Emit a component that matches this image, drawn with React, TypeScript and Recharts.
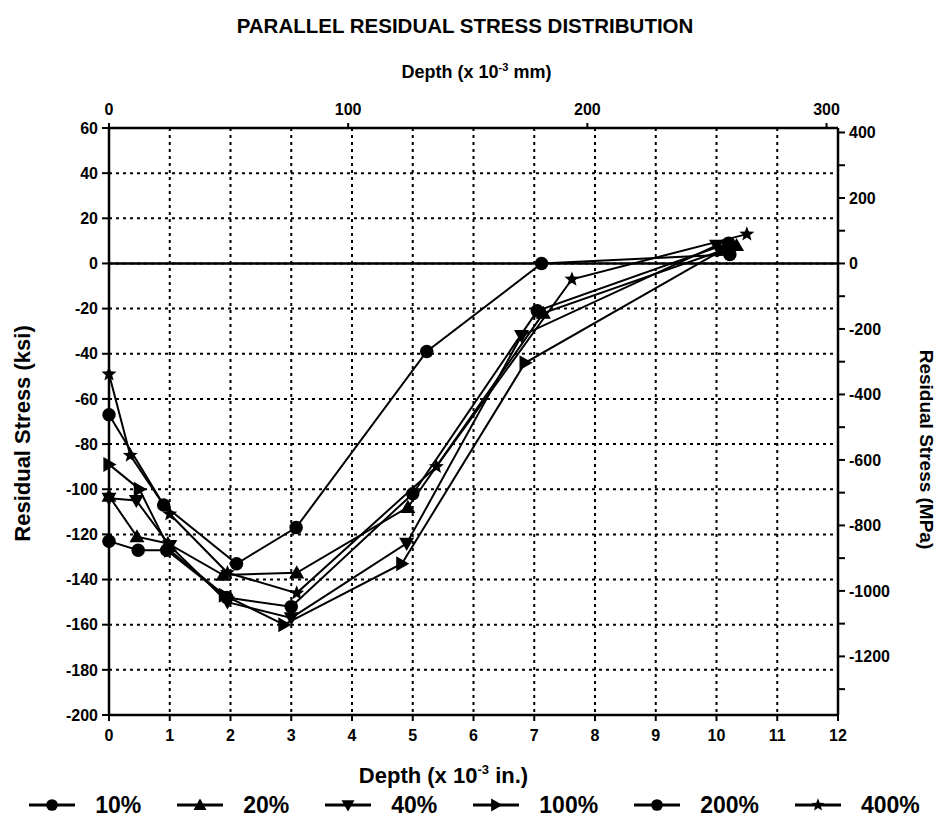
import React from 'react';
import { ScatterChart, Scatter, XAxis, YAxis, CartesianGrid, ReferenceLine, Legend } from 'recharts';

// ---- data ----
const depthTicksIn = [0, 1, 2, 3, 4, 5, 6, 7, 8, 9, 10, 11, 12];
const depthTicksMm = [0, 100, 200, 300];
const ksiTicks = [-200, -180, -160, -140, -120, -100, -80, -60, -40, -20, 0, 20, 40, 60];
const mpaTicks = [-1300, -1200, -1100, -1000, -900, -800, -700, -600, -500, -400, -300, -200, -100, 0, 100, 200, 300, 400];
const seriesNames = ['10%', '20%', '40%', '100%', '200%', '400%'];
const seriesMarkers = ['circle', 'up', 'down', 'right', 'circle', 'star'];

// [depth (10^-3 in), stress (ksi)]
const s10: [number, number][] = [[0, -67], [0.9, -107], [2.1, -133], [3.08, -117], [5.23, -39], [7.12, 0], [10.22, 4]];
const s20: [number, number][] = [[0, -103], [0.46, -121], [0.97, -124], [1.88, -138], [3.09, -137], [4.92, -108], [7.15, -22], [10.33, 8]];
const s40: [number, number][] = [[0, -104], [0.45, -105], [1.0, -125], [1.95, -150], [3.0, -157], [4.9, -124], [6.79, -32], [10.0, 8]];
const s100: [number, number][] = [[0, -89], [0.5, -100], [1.0, -127], [1.9, -147], [2.88, -160], [4.82, -133], [6.85, -44], [10.1, 6]];
const s200: [number, number][] = [[0, -123], [0.48, -127], [0.95, -127], [1.94, -148], [3.0, -152], [5.0, -102], [7.05, -21], [10.2, 9]];
const s400: [number, number][] = [[0, -49], [0.35, -85], [1.0, -111], [1.95, -137], [3.09, -146], [5.39, -90], [7.62, -7], [10.5, 13]];

const allSeries = [s10, s20, s40, s100, s200, s400];

const KSI_TO_MPA = 6.895;
const IN_TO_MM = 25.4;
const ksiDomain = [-200, 60];
const inDomain = [0, 12];

const FONT = "'Liberation Sans', Arial, Helvetica, sans-serif";

const toPts = (s: [number, number][]) => s.map(([x, y]) => ({ x, y }));

function Marker({ cx, cy, kind, r = 7.5 }: any) {
  if (cx == null || cy == null) return null;
  const k = 0.75;
  switch (kind) {
    case 'circle':
      return <circle cx={cx} cy={cy} r={r * 0.9} fill="#000" />;
    case 'up':
      return <polygon points={`${cx},${cy - r} ${cx + r},${cy + r * k} ${cx - r},${cy + r * k}`} fill="#000" />;
    case 'down':
      return <polygon points={`${cx},${cy + r} ${cx + r},${cy - r * k} ${cx - r},${cy - r * k}`} fill="#000" />;
    case 'right':
      return <polygon points={`${cx + r},${cy} ${cx - r * k},${cy - r} ${cx - r * k},${cy + r}`} fill="#000" />;
    case 'star': {
      const pts: string[] = [];
      for (let i = 0; i < 10; i++) {
        const rr = i % 2 === 0 ? r * 1.05 : r * 0.45;
        const a = -Math.PI / 2 + (i * Math.PI) / 5;
        pts.push(`${cx + rr * Math.cos(a)},${cy + rr * Math.sin(a)}`);
      }
      return <polygon points={pts.join(' ')} fill="#000" />;
    }
    default:
      return null;
  }
}

const tickStyle = { fontFamily: FONT, fontWeight: 'bold' as const, fontSize: 16, fill: '#000' };

const LeftLabel = ({ viewBox }: any) => {
  const x = viewBox.x + 14;
  const y = viewBox.y + viewBox.height / 2 + 12;
  return (
    <text x={x} y={y} transform={`rotate(-90 ${x} ${y})`} textAnchor="middle" dominantBaseline="central"
      style={{ fontFamily: FONT, fontWeight: 'bold', fontSize: 22, fill: '#000' }}>
      Residual Stress (ksi)
    </text>
  );
};

const RightLabel = ({ viewBox }: any) => {
  const x = viewBox.x + 88;
  const y = viewBox.y + viewBox.height / 2 + 28;
  return (
    <text x={x} y={y} transform={`rotate(90 ${x} ${y})`} textAnchor="middle" dominantBaseline="central"
      style={{ fontFamily: FONT, fontWeight: 'bold', fontSize: 19, fill: '#000' }}>
      Residual Stress (MPa)
    </text>
  );
};

const TopLabel = ({ viewBox }: any) => {
  const x = viewBox.x + viewBox.width / 2 + 3;
  const y = viewBox.y + 18;
  return (
    <text x={x} y={y} textAnchor="middle" style={{ fontFamily: FONT, fontWeight: 'bold', fontSize: 18, fill: '#000' }}>
      Depth (x 10<tspan dy={-7} fontSize={11}>-3</tspan><tspan dy={7}> mm)</tspan>
    </text>
  );
};

const BottomLabel = ({ viewBox }: any) => {
  const x = viewBox.x + viewBox.width / 2 - 30;
  const y = viewBox.y + 68;
  return (
    <text x={x} y={y} textAnchor="middle" style={{ fontFamily: FONT, fontWeight: 'bold', fontSize: 22, fill: '#000' }}>
      Depth (x 10<tspan dy={-9} fontSize={13}>-3</tspan><tspan dy={9}> in.)</tspan>
    </text>
  );
};

const renderLegend = () => (
  <div style={{ display: 'flex', justifyContent: 'center', alignItems: 'center', height: 28, fontFamily: FONT, fontWeight: 'bold', fontSize: 23, color: '#000', marginLeft: 0 }}>
    {seriesNames.map((name, i) => (
      <div key={name} style={{ display: 'flex', alignItems: 'center', marginRight: i < seriesNames.length - 1 ? 34 : 0 }}>
        <svg width={50} height={20}>
          <line x1={2} y1={10} x2={48} y2={10} stroke="#000" strokeWidth={3} />
          <Marker cx={25} cy={10} kind={seriesMarkers[i]} r={6.5} />
        </svg>
        <span style={{ marginLeft: 18 }}>{name}</span>
      </div>
    ))}
  </div>
);

export default function App() {
  return (
    <div style={{ position: 'absolute', left: 0, top: 0, width: 939, height: 829, background: '#fff' }}>
      <div style={{ position: 'absolute', top: 14, left: 0, width: 930, textAlign: 'center', fontFamily: FONT, fontWeight: 'bold', fontSize: 20.5, color: '#000' }}>
        PARALLEL RESIDUAL STRESS DISTRIBUTION
      </div>
      <ScatterChart width={939} height={829} margin={{ top: 60, right: 0, bottom: 10, left: 8 }}>
        <CartesianGrid xAxisId="bottom" yAxisId="left" stroke="#000" strokeWidth={2} strokeDasharray="3 4" />
        <XAxis xAxisId="bottom" dataKey="x" type="number" domain={inDomain} ticks={depthTicksIn}
          orientation="bottom" height={76} tick={tickStyle} tickSize={6} tickMargin={9} interval={0}
          axisLine={{ stroke: '#000', strokeWidth: 2.5 }} tickLine={{ stroke: '#000', strokeWidth: 2 }}
          label={<BottomLabel />} />
        <XAxis xAxisId="top" dataKey="x" type="number" domain={[0, 12 * IN_TO_MM]} ticks={depthTicksMm} allowDataOverflow
          orientation="top" height={68} tick={tickStyle} tickSize={5} tickMargin={8} interval={0}
          axisLine={{ stroke: '#000', strokeWidth: 2.5 }} tickLine={{ stroke: '#000', strokeWidth: 2 }}
          label={<TopLabel />} />
        <YAxis yAxisId="left" dataKey="y" type="number" domain={ksiDomain} ticks={ksiTicks}
          orientation="left" width={101} tick={tickStyle} tickSize={7} tickMargin={4} interval={0}
          axisLine={{ stroke: '#000', strokeWidth: 2.5 }} tickLine={{ stroke: '#000', strokeWidth: 2 }}
          label={<LeftLabel />} />
        <YAxis yAxisId="right" dataKey="y" type="number" domain={[ksiDomain[0] * KSI_TO_MPA, ksiDomain[1] * KSI_TO_MPA]}
          ticks={mpaTicks} allowDataOverflow orientation="right" width={101} tick={tickStyle} tickSize={7} tickMargin={4} interval={0}
          tickFormatter={(v: number) => (v % 200 === 0 ? String(v) : '')}
          axisLine={{ stroke: '#000', strokeWidth: 2.5 }} tickLine={{ stroke: '#000', strokeWidth: 2 }}
          label={<RightLabel />} />
        <ReferenceLine xAxisId="bottom" yAxisId="left" y={0} stroke="#000" strokeWidth={2.5} />
        {allSeries.map((s, i) => (
          <Scatter key={seriesNames[i]} name={seriesNames[i]} xAxisId="bottom" yAxisId="left" data={toPts(s)}
            fill="#000" line={{ stroke: '#000', strokeWidth: 2 }} lineType="joint" isAnimationActive={false}
            shape={(p: any) => <Marker cx={p.cx} cy={p.cy} kind={seriesMarkers[i]} />} />
        ))}
        <Legend verticalAlign="bottom" content={renderLegend} />
      </ScatterChart>
    </div>
  );
}
